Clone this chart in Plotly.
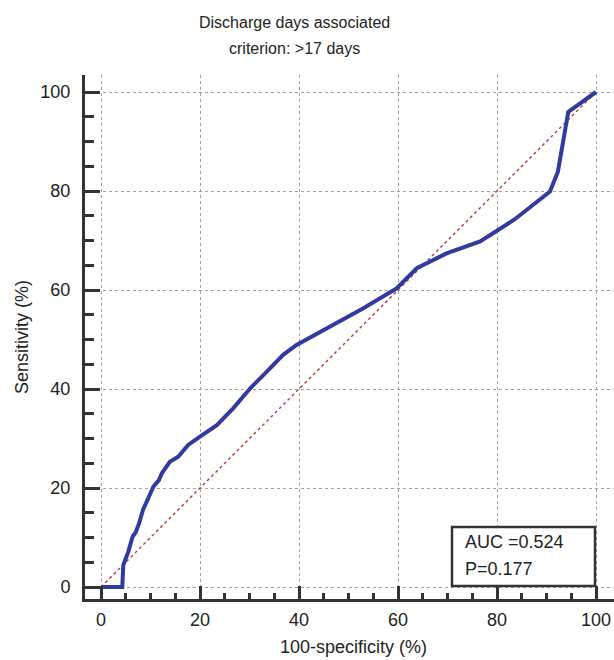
import plotly.graph_objects as go

# ROC curve points (100-specificity %, sensitivity %)
fpr = [0, 4.3, 4.5, 5.5, 6.4, 7.0, 7.7, 8.5, 10.6, 11.7, 12.3, 13.9, 15.6, 17.6, 20.0,
       23.4, 26.7, 30.1, 33.5, 36.8, 39.5, 46.3, 53.0, 59.7, 63.8, 69.8, 76.6,
       83.6, 86.7, 90.7, 92.3, 93.7, 94.4, 100]
tpr = [0, 0, 4.4, 7.1, 10.2, 11.0, 12.9, 15.6, 20.3, 21.6, 23.0, 25.3, 26.3, 28.7, 30.4,
       32.7, 36.1, 40.1, 43.5, 46.9, 48.9, 52.6, 56.3, 60.3, 64.4, 67.4, 69.8,
       74.3, 76.8, 79.9, 83.9, 92.0, 96.0, 100]
ref_x = [0, 100]
ref_y = [0, 100]
tick_vals = [0, 20, 40, 60, 80, 100]
tick_text = ["0", "20", "40", "60", "80", "100"]
title_lines = ["Discharge days associated", "criterion: >17 days"]
x_title = "100-specificity (%)"
y_title = "Sensitivity (%)"
stats_text = ["AUC =0.524", "P=0.177"]

FONT = "Liberation Sans, Arial, Helvetica, sans-serif"
TXT = "#222222"
W, H = 614, 660
L, R, T, B = 85, 0, 75, 61
pw, ph = W - L - R, H - T - B

def px2paper_x(px):
    return (px - L) / pw

def py2paper_y(py):
    return (H - B - py) / ph

fig = go.Figure()
fig.add_trace(go.Scatter(x=ref_x, y=ref_y, mode="lines",
                         line=dict(color="#b0474a", width=1.5, dash="dot"),
                         hoverinfo="skip", showlegend=False))
fig.add_trace(go.Scatter(x=fpr, y=tpr, mode="lines",
                         line=dict(color="#2f3b9f", width=4),
                         showlegend=False))

axis_common = dict(
    showline=True, linewidth=3, linecolor="#333333", mirror=False,
    ticks="inside", tickwidth=3, tickcolor="#333333",
    tickvals=tick_vals, ticktext=tick_text,
    tickfont=dict(family=FONT, size=18, color=TXT),
    showgrid=True, gridcolor="#a0a0a0", griddash="dot", gridwidth=1,
    zeroline=False,
)
fig.update_xaxes(**axis_common, range=[-(101 - 85) / 4.95, (614 - 101) / 4.95],
                 ticklen=13, ticklabelstandoff=2,
                 minor=dict(ticks="inside", ticklen=6, tickwidth=2.5, tickcolor="#333333",
                            dtick=5, tick0=0, showgrid=False))
fig.update_yaxes(**axis_common, range=[(587 - 599) / 4.95, (587 - 75) / 4.95],
                 ticklen=15, ticklabelstandoff=8,
                 minor=dict(ticks="inside", ticklen=9, tickwidth=2.5, tickcolor="#333333",
                            dtick=5, tick0=0, showgrid=False))

# AUC box
fig.add_shape(type="rect", xref="x", yref="y",
              x0=(452 - 101) / 4.95, x1=(595 - 101) / 4.95,
              y0=(587 - 586) / 4.95, y1=(587 - 527) / 4.95,
              line=dict(color="#333333", width=2.5), fillcolor="white", layer="above")

annotations = []
for i, s in enumerate(stats_text):
    annotations.append(dict(text=s, xref="paper", yref="paper",
                            x=px2paper_x(463), y=py2paper_y([542, 569][i]),
                            xanchor="left", yanchor="middle", showarrow=False,
                            font=dict(family=FONT, size=18, color=TXT)))
for i, s in enumerate(title_lines):
    annotations.append(dict(text=s, xref="paper", yref="paper",
                            x=px2paper_x(294), y=py2paper_y([23, 49][i]),
                            xanchor="center", yanchor="middle", showarrow=False,
                            font=dict(family=FONT, size=16, color=TXT)))
annotations.append(dict(text=x_title, xref="paper", yref="paper",
                        x=px2paper_x(353), y=py2paper_y(647),
                        xanchor="center", yanchor="middle", showarrow=False,
                        font=dict(family=FONT, size=18, color=TXT)))
annotations.append(dict(text=y_title, xref="paper", yref="paper",
                        x=px2paper_x(22), y=py2paper_y(337), textangle=-90,
                        xanchor="center", yanchor="middle", showarrow=False,
                        font=dict(family=FONT, size=18, color=TXT)))

fig.update_layout(width=W, height=H, margin=dict(l=L, r=R, t=T, b=B, pad=0),
                  paper_bgcolor="white", plot_bgcolor="white",
                  annotations=annotations, showlegend=False)

fig.write_html("out.html", config={"displayModeBar": False},
               post_script="document.body.style.margin='0';document.body.style.overflow='hidden';")
